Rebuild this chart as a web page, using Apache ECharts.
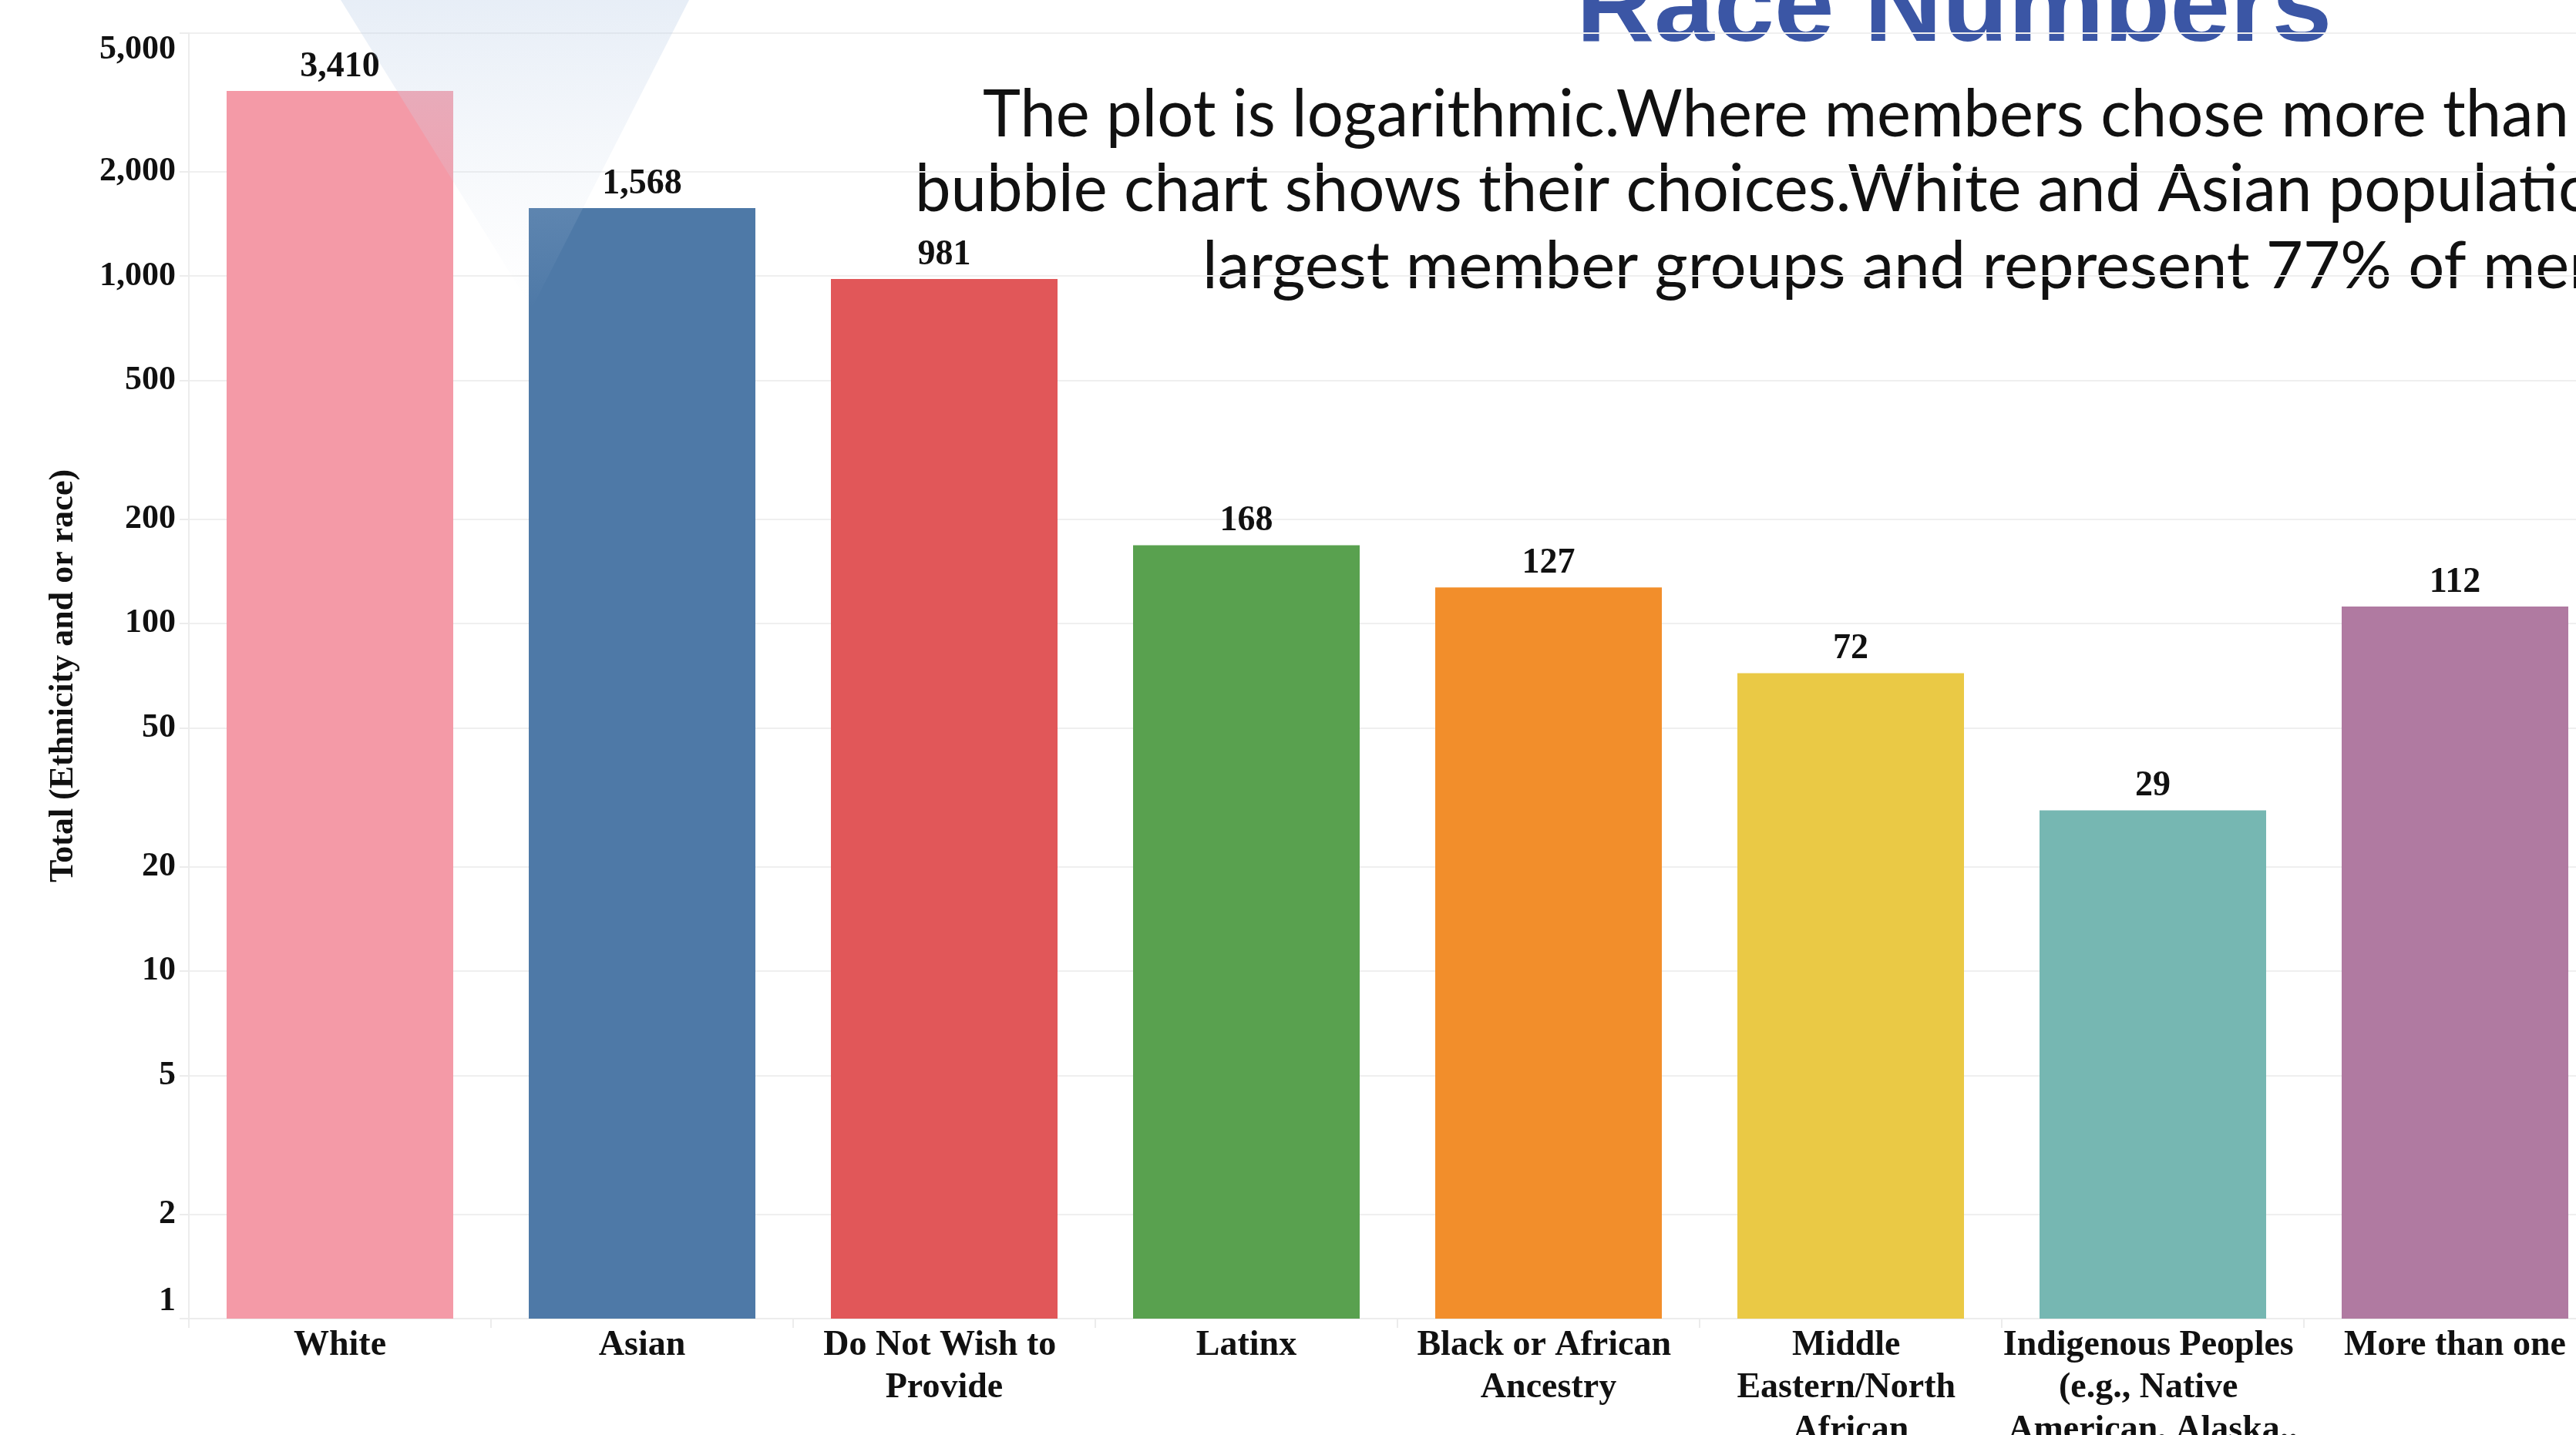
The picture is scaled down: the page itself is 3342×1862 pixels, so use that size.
<!DOCTYPE html>
<html>
<head>
    <meta charset="utf-8">
    <script src="https://cdn.jsdelivr.net/npm/echarts@6/dist/echarts.min.js"></script>
    <style>html, body { margin: 0; padding: 0; background: #fff; }</style>
</head>
<body>
    <div id="main" style="width: 3342px;height:1862px;"></div>
    <script type="text/javascript">
        var myChart = echarts.init(document.getElementById('main'));

        // data
        var categories = [
            'White',
            'Asian',
            'Do Not Wish to Provide',
            'Latinx',
            'Black or African Ancestry',
            'Middle Eastern/North African',
            'Indigenous Peoples (e.g., Native American, Alaska..',
            'More than one'
        ];
        var totals = [3410, 1568, 981, 168, 127, 72, 29, 112];
        var yTicks = [1, 2, 5, 10, 20, 50, 100, 200, 500, 1000, 2000, 5000];
        var barColors = ['#F49AA7', '#4E79A7', '#E15759', '#59A14F', '#F28E2B', '#EAC945', '#76B7B2', '#B07AA1'];
        var yName = 'Total (Ethnicity and or race)';
        var titleText = 'Race Numbers';
        var noteLines = [
            'The plot is logarithmic.Where members chose more than',
            'bubble chart shows their choices.White and Asian populations',
            'largest member groups and represent 77% of members'
        ];

        var serif = '"Liberation Serif", "Times New Roman", serif';
        var noteFont = '86px Lato, "Noto Sans", sans-serif';
        function fmt(v) { return Number(v).toLocaleString('en-US'); }

        // the Middle Eastern label wraps narrower in the original
        var xData = categories.map(function (c) {
            if (c.indexOf('/') >= 0) {
                return { value: c, textStyle: { width: 300 } };
            }
            return c;
        });

        var option = {
            backgroundColor: '#ffffff',
            animation: false,
            color: barColors,
            grid: {
                left: 245,
                top: 43,
                width: 3136,
                height: 1668,
                containLabel: false,
                outerBoundsMode: 'none'
            },
            xAxis: {
                type: 'category',
                data: xData,
                axisLine: { show: true, lineStyle: { color: '#ececec', width: 2 } },
                axisTick: { show: true, length: 12, lineStyle: { color: '#ececec', width: 2 } },
                axisLabel: {
                    interval: 0,
                    margin: 8,
                    width: 395,
                    overflow: 'break',
                    lineHeight: 55,
                    fontFamily: serif,
                    fontWeight: 'bold',
                    fontSize: 46,
                    color: '#111'
                }
            },
            yAxis: {
                type: 'log',
                logBase: 10,
                min: 1,
                max: 5000,
                name: yName,
                nameLocation: 'middle',
                nameRotate: 90,
                nameGap: 140,
                nameTextStyle: { fontFamily: serif, fontWeight: 'bold', fontSize: 44, color: '#111' },
                axisLine: { show: true, lineStyle: { color: '#ececec', width: 2 } },
                axisTick: { show: true, length: 12, customValues: yTicks, lineStyle: { color: '#ececec', width: 2 } },
                splitLine: { show: true, lineStyle: { color: '#efefef', width: 2 } },
                axisLabel: {
                    customValues: yTicks,
                    margin: 17,
                    fontFamily: serif,
                    fontWeight: 'bold',
                    fontSize: 44,
                    color: '#111',
                    verticalAlignMinLabel: 'bottom',
                    verticalAlignMaxLabel: 'top',
                    formatter: function (v) { return fmt(v); }
                }
            },
            series: [{
                type: 'bar',
                data: totals,
                colorBy: 'data',
                barCategoryGap: '25%',
                label: {
                    show: true,
                    position: 'top',
                    distance: 8,
                    fontFamily: serif,
                    fontWeight: 'bold',
                    fontSize: 46,
                    color: '#111',
                    formatter: function (p) { return fmt(p.value); }
                }
            }],
            graphic: [
                {
                    // faint logo watermark from the slide
                    type: 'polygon',
                    z: 100,
                    silent: true,
                    shape: { points: [[442, 0], [894, 0], [690, 400]] },
                    style: {
                        fill: {
                            type: 'linear', x: 0, y: 0, x2: 0, y2: 1,
                            colorStops: [
                                { offset: 0, color: 'rgba(195,212,234,0.4)' },
                                { offset: 0.6, color: 'rgba(205,218,236,0.15)' },
                                { offset: 1, color: 'rgba(215,225,240,0)' }
                            ]
                        }
                    }
                },
                {
                    type: 'text',
                    x: 2045,
                    y: 14,
                    style: {
                        text: titleText,
                        font: 'bold 140px "Liberation Sans", Arial, sans-serif',
                        fill: '#3B56A5',
                        verticalAlign: 'middle'
                    }
                },
                {
                    type: 'text', x: 1275, y: 149, scaleX: 0.967,
                    style: { text: noteLines[0], font: noteFont, fill: '#111', verticalAlign: 'middle' }
                },
                {
                    type: 'text', x: 1187, y: 246, scaleX: 0.967,
                    style: { text: noteLines[1], font: noteFont, fill: '#111', verticalAlign: 'middle' }
                },
                {
                    type: 'text', x: 1560, y: 346, scaleX: 0.967,
                    style: { text: noteLines[2], font: noteFont, fill: '#111', verticalAlign: 'middle' }
                }
            ]
        };

        myChart.setOption(option);
    </script>
</body>
</html>
